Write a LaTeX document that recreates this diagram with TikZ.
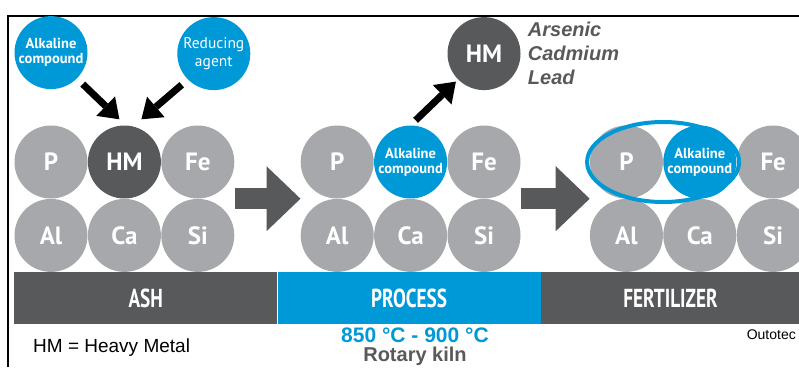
\documentclass[tikz,border=0pt]{standalone}
\usepackage{fontspec}
\setmainfont{Liberation Sans}
\newfontfamily\dinfont{PT Sans}
\newfontfamily\barfont[FakeStretch=0.74]{PT Sans}
\usetikzlibrary{positioning,calc,arrows.meta}
\definecolor{otblue}{RGB}{0,153,216}
\definecolor{otgray}{RGB}{166,168,171}
\definecolor{otdark}{RGB}{88,89,91}
\definecolor{otink}{RGB}{89,89,89}
\tikzset{
atom/.style={circle,fill=otgray,minimum size=73pt,inner sep=0pt,text=white,font=\dinfont\bfseries\fontsize{25}{25}\selectfont},
heavy/.style={atom,fill=otdark},
agent/.style={atom,fill=otblue,align=center,font=\dinfont\bfseries\fontsize{14.5}{15}\selectfont},
reducer/.style={agent,font=\dinfont\fontsize{15.5}{18}\selectfont},
barbox/.style={minimum height=52pt,inner sep=0pt,text=white,font=\barfont\bfseries\fontsize{26}{26}\selectfont},
push/.style={-{Triangle[length=19pt,width=27pt,line width=0pt]},line width=7pt,black,shorten <=8pt},
stage/.style={-{Triangle[length=34pt,width=65pt,line width=0pt]},line width=21pt,otdark},
ring/.style={draw=otblue,line width=4pt},
note/.style={inner sep=0pt,font=\fontsize{19}{21}\selectfont}
}

\begin{document}
\begin{tikzpicture}[x=1pt,y=-1pt]
\useasboundingbox (0,0) rectangle (799,367);
\draw[line width=2pt] (8,367) |- (799,16);

\node[atom] (p1) at (51,162) {P};
\node[heavy,right=0pt of p1] (hm1) {HM};
\node[atom,right=0pt of hm1] (fe1) {Fe};
\node[atom,below=0pt of p1] (al1) {Al};
\node[atom,right=0pt of al1] (ca1) {Ca};
\node[atom,right=0pt of ca1] (si1) {Si};

\node[atom,right=66pt of fe1] (p2) {P};
\node[agent,right=0pt of p2] (alk2) {Alkaline\\compound};
\node[atom,right=0pt of alk2] (fe2) {Fe};
\node[atom,below=0pt of p2] (al2) {Al};
\node[atom,right=0pt of al2] (ca2) {Ca};
\node[atom,right=0pt of ca2] (si2) {Si};

\node[atom,right=69pt of fe2] (p3) {P};
\node[agent,right=0pt of p3] (alk3) {Alkaline\\compound};
\node[atom,right=0pt of alk3] (fe3) {Fe};
\node[atom,below=0pt of p3] (al3) {Al};
\node[atom,right=0pt of al3] (ca3) {Ca};
\node[atom,right=0pt of ca3] (si3) {Si};

\node[agent,above=36pt of p1] (alk0) {Alkaline\\compound};
\node[reducer,above=35pt of fe1,xshift=16pt] (red0) {Reducing\\agent};
\node[heavy,above=35pt of fe2] (hm0) {HM};
\node[right=7pt of hm0,align=left,inner sep=0pt,text=otink,font=\bfseries\itshape\fontsize{20}{24}\selectfont] (metals) {Arsenic\\Cadmium\\Lead};

\coordinate (tipA) at ($(hm1.north)+(-5,-6)$);
\coordinate (tipB) at ($(hm1.north)+(17,-6)$);
\coordinate (tailC) at ($(alk2.north)+(5,-5)$);
\draw[push] (alk0.-45) -- (tipA);
\draw[push] (red0.-135) -- (tipB);
\draw[push,shorten <=0pt,shorten >=3pt] (tailC) -- (hm0.-135);

\draw[stage] ($(fe1.east)!.5!(si1.east)$) -- ($(p2.west)!.5!(al2.west)$);
\draw[stage] ($(fe2.east)!.5!(si2.east)$) -- ($(p3.west)!.5!(al3.west)$);
\draw[ring] ($(p3)!.5!(alk3)$) ellipse [x radius=76, y radius=40];

\node[barbox,fill=otdark,minimum width=263pt,anchor=north west] (ash) at (14,272) {ASH};
\node[barbox,fill=otblue,minimum width=263pt,right=0pt of ash] (proc) {PROCESS};
\node[barbox,fill=otdark,minimum width=259pt,right=0pt of proc] (fert) {FERTILIZER};

\node[note,anchor=base west] (hmkey) at (33,352) {HM = Heavy Metal};
\node[note,anchor=base,text=otblue,font=\bfseries\fontsize{21}{22}\selectfont] (temp) at (415,342) {850 °C - 900 °C};
\node[note,anchor=base,text=otink,font=\bfseries\fontsize{20}{21}\selectfont] (kiln) at (415,361) {Rotary kiln};
\node[anchor=base east,inner sep=0pt,font=\fontsize{14}{15}\selectfont] (brand) at (796,339) {Outotec};
\end{tikzpicture}
\end{document}
